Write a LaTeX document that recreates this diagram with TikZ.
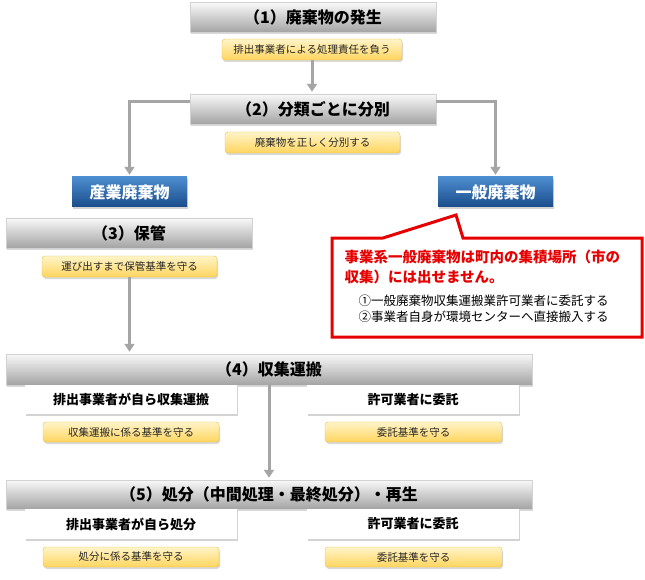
\documentclass[tikz,border=0pt]{standalone}
\usepackage{fontspec}
\setmainfont{Noto Sans CJK JP}
\usepackage{tikz}
\usetikzlibrary{arrows.meta}
\usetikzlibrary{shadows}

\definecolor{memoTop}{HTML}{FFF4C8}
\definecolor{memoBot}{HTML}{FFD55E}
\definecolor{memoEdge}{HTML}{EDBE45}
\definecolor{wasteTop}{HTML}{4C8DD0}
\definecolor{wasteBot}{HTML}{1A4C8A}
\definecolor{warnRed}{HTML}{E60000}
\definecolor{linkGray}{HTML}{A5A5A5}

\begin{document}
\begin{tikzpicture}[x=1pt, y=-1pt,
        header/.style={draw=gray!35, top color=gray!5, bottom color=gray!72, minimum height=30pt, inner sep=0pt,
            font=\fontsize{16}{18}\selectfont\bfseries, drop shadow={shadow xshift=1pt, shadow yshift=-2pt, opacity=0.3}},
        memo/.style={draw=memoEdge, rounded corners=3pt, top color=memoTop, bottom color=memoBot, minimum height=21pt,
            inner sep=0pt, text=black!85, font=\fontsize{10.5}{12}\selectfont, drop shadow={shadow xshift=1pt, shadow yshift=-2pt, opacity=0.3}},
        waste/.style={top color=wasteTop, bottom color=wasteBot, minimum width=115pt, minimum height=30pt, inner sep=0pt,
            text=white, font=\fontsize{16}{18}\selectfont\bfseries, drop shadow={shadow xshift=1pt, shadow yshift=-2pt, opacity=0.35}},
        choice/.style={fill=white, minimum width=212pt, minimum height=29pt, inner sep=0pt,
            font=\fontsize{13}{15}\selectfont\bfseries, drop shadow={shadow xshift=1pt, shadow yshift=-2pt, opacity=0.35}},
        link/.style={-{Triangle[width=10pt,length=8pt]}, line width=3pt, linkGray, shorten >=2pt},
    ]
    \useasboundingbox (0,0) rectangle (645,580);

    % (1) and (2)
    \node[header, minimum width=246pt] (gen) at (313,17.5) {（1）廃棄物の発生};
    \node[memo, minimum width=180pt] (genNote) at (312,49.5) {排出事業者による処理責任を負う};
    \node[header, minimum width=246pt] (sort) at (313,109) {（2）分類ごとに分別};
    \node[memo, minimum width=175pt] (sortNote) at (312.5,142.5) {廃棄物を正しく分別する};

    % the two kinds of waste
    \node[waste] (ind) at (129.5,192) {産業廃棄物};
    \node[waste] (mun) at (495.5,192) {一般廃棄物};

    % (3)
    \node[header, minimum width=246pt] (keep) at (129,233) {（3）保管};
    \node[memo, minimum width=175pt] (keepNote) at (129.5,266.5) {運び出すまで保管基準を守る};

    % callout on municipal waste
    \draw[warnRed, line width=3pt] (332,238) -- (383,238) -- (456,215) -- (463,238) -- (642,238)
        -- (642,337) -- (332,337) -- cycle;
    \node[anchor=north west, align=left, text=warnRed, font=\fontsize{14.5}{20}\selectfont\bfseries] (warn) at (341,246)
        {事業系一般廃棄物は町内の集積場所（市の\\収集）には出せません。};
    \node[anchor=north west, align=left, font=\fontsize{12.5}{16.5}\selectfont] (ways) at (355,291)
        {①一般廃棄物収集運搬業許可業者に委託する\\②事業者自身が環境センターへ直接搬入する};

    % (4)
    \node[header, minimum width=526pt, minimum height=31pt] (haul) at (269,369.5) {（4）収集運搬};
    \node[choice] (haulSelf) at (131,399.5) {排出事業者が自ら収集運搬};
    \node[choice] (haulAgent) at (413,399.5) {許可業者に委託};
    \node[memo, minimum width=176pt, minimum height=20pt] (haulSelfNote) at (131,432) {収集運搬に係る基準を守る};
    \node[memo, minimum width=177pt, minimum height=20pt] (haulAgentNote) at (413.5,432) {委託基準を守る};

    % (5)
    \node[header, minimum width=526pt, minimum height=29pt] (disp) at (269,494.5) {（5）処分（中間処理・最終処分）・再生};
    \node[choice, minimum height=30pt] (dispSelf) at (131,524) {排出事業者が自ら処分};
    \node[choice, minimum height=30pt] (dispAgent) at (413,524) {許可業者に委託};
    \node[memo, minimum width=176pt, minimum height=20pt] (dispSelfNote) at (131,557) {処分に係る基準を守る};
    \node[memo, minimum width=177pt, minimum height=20pt] (dispAgentNote) at (413.5,557) {委託基準を守る};

    % connectors
    \draw[link] (genNote.south) -- (genNote.south |- sort.north);
    \draw[link] ([yshift=7pt]sort.west) -| (ind.north);
    \draw[link] ([yshift=7pt]sort.east) -| (mun.north);
    \draw[link] (keepNote.south) -- (keepNote.south |- haul.north);
    \draw[link] (haul.south) -- (disp.north);
\end{tikzpicture}
\end{document}
